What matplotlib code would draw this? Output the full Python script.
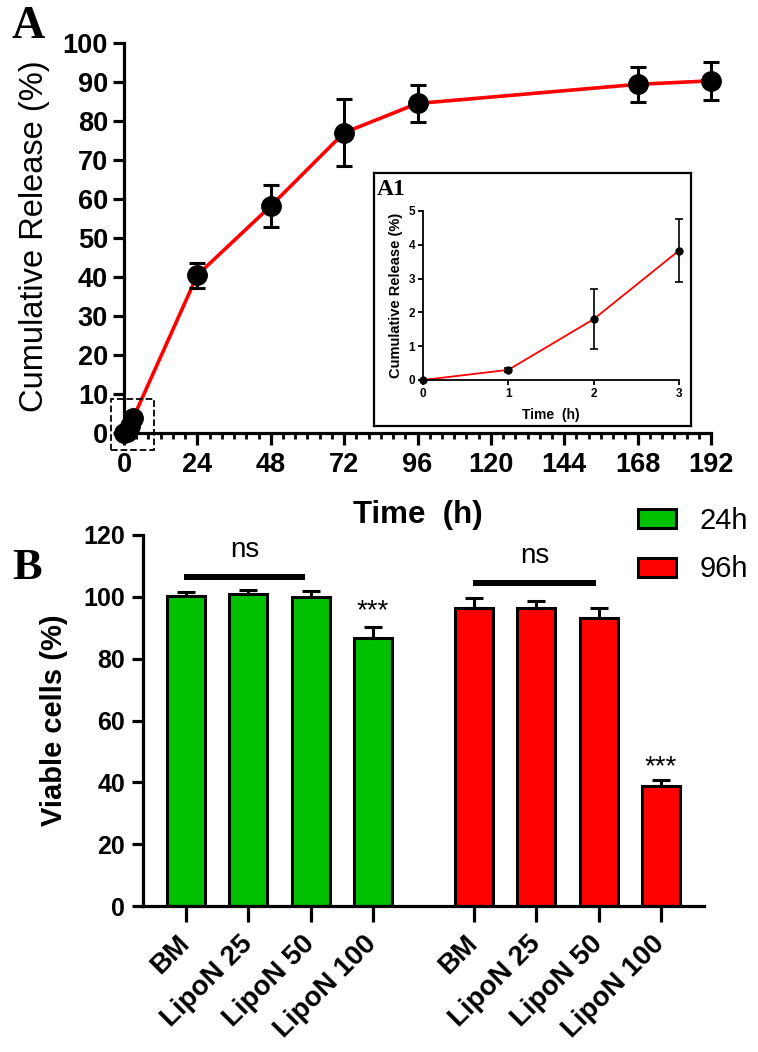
import matplotlib
matplotlib.use('Agg')
import matplotlib.pyplot as plt
from matplotlib.patches import Rectangle
from matplotlib.ticker import MultipleLocator
import numpy as np

plt.rcParams['font.family'] = ['Liberation Sans', 'DejaVu Sans']

# release data (time in h, cumulative release in %)
time_h = [0, 1, 2, 3, 24, 48, 72, 96, 168, 192]
release = [0, 0.3, 1.8, 3.83, 40.5, 58.2, 77.0, 84.5, 89.4, 90.3]
release_sd = [0, 0.05, 0.88, 0.92, 3.2, 5.3, 8.6, 4.7, 4.4, 4.8]

# first hours for the zoomed inset
inset_time = time_h[:4]
inset_release = release[:4]
inset_sd = release_sd[:4]

# viability data
groups = ['BM', 'LipoN 25', 'LipoN 50', 'LipoN 100']
viab_24 = [100.3, 100.9, 99.8, 86.8]
sd_24 = [1.3, 1.3, 2.1, 3.5]
viab_96 = [96.5, 96.5, 93.0, 38.7]
sd_96 = [3.2, 2.0, 3.5, 1.9]

W, H = 758, 1052
fig = plt.figure(figsize=(W / 100, H / 100), dpi=100)


def px_axes(x0, y0, x1, y1):
    # pixel box (left, top, right, bottom) -> figure fraction
    return [x0 / W, 1 - y1 / H, (x1 - x0) / W, (y1 - y0) / H]


# ---------------- panel A ----------------
ax = fig.add_axes(px_axes(124, 43, 711, 433))
ax.plot(time_h, release, color='#ff0000', lw=2.6, zorder=2, clip_on=False)
ax.errorbar(time_h, release, yerr=release_sd, fmt='o', color='black',
            ms=14, elinewidth=2.2, capsize=6, capthick=2.2, zorder=3, clip_on=False)
ax.set_xlim(0, 192)
ax.set_ylim(0, 100)
ax.xaxis.set_major_locator(MultipleLocator(24))
ax.xaxis.set_minor_locator(MultipleLocator(4))
ax.yaxis.set_major_locator(MultipleLocator(10))
for s in ['top', 'right']:
    ax.spines[s].set_visible(False)
for s in ['left', 'bottom']:
    ax.spines[s].set_linewidth(2.3)
ax.tick_params(axis='y', which='major', length=8, width=2.3, pad=3.5, labelsize=19.5)
ax.tick_params(axis='x', which='major', length=8.5, width=2.3, pad=5, labelsize=19.5)
ax.tick_params(axis='x', which='minor', length=4.5, width=2)
for lab in ax.get_xticklabels() + ax.get_yticklabels():
    lab.set_fontweight('bold')
ax.set_xlabel('Time  (h)', fontsize=22.5, fontweight='bold')
ax.xaxis.set_label_coords(0.5, -0.172)
ax.xaxis.label.set_va('top')
ax.set_ylabel('Cumulative Release (%)', fontsize=23.5)
ax.yaxis.set_label_coords(-0.126, 0.505)

# dashed box around the first hours
ax.add_patch(Rectangle((-4.2, -4.4), 14, 13.1, fill=False, ls='--', lw=1.3,
                       ec='black', clip_on=False, zorder=4))

fig.text(11 / W, 1 - 6 / H, 'A', family='Liberation Serif', fontweight='bold',
         fontsize=33, ha='left', va='top')

# inset A1
frame = fig.add_axes(px_axes(374, 173, 691, 426))
frame.set_xticks([])
frame.set_yticks([])
for s in frame.spines.values():
    s.set_linewidth(1.6)
frame.text(0.01, 0.975, 'A1', transform=frame.transAxes, family='Liberation Serif',
           fontweight='bold', fontsize=17, ha='left', va='top')

axi = fig.add_axes(px_axes(423, 211, 679, 380))
axi.plot(inset_time, inset_release, color='#ff0000', lw=1.3, zorder=2, clip_on=False)
axi.errorbar(inset_time, inset_release, yerr=inset_sd, fmt='o', color='black',
             ms=5, elinewidth=1.2, capsize=3, capthick=1.2, zorder=3, clip_on=False)
axi.set_xlim(0, 3)
axi.set_ylim(0, 5)
axi.set_xticks([0, 1, 2, 3])
axi.set_yticks([0, 1, 2, 3, 4, 5])
for s in ['top', 'right']:
    axi.spines[s].set_visible(False)
for s in ['left', 'bottom']:
    axi.spines[s].set_linewidth(1.3)
axi.tick_params(length=3.5, width=1.3, pad=2, labelsize=8.5)
for lab in axi.get_xticklabels() + axi.get_yticklabels():
    lab.set_fontweight('bold')
axi.set_xlabel('Time  (h)', fontsize=10, fontweight='bold')
axi.xaxis.set_label_coords(0.5, -0.166)
axi.xaxis.label.set_va('top')
axi.set_ylabel('Cumulative Release (%)', fontsize=10.5, fontweight='bold')
axi.yaxis.set_label_coords(-0.08, 0.5)

# ---------------- panel B ----------------
ax2 = fig.add_axes(px_axes(143, 535, 704, 906))
pos24 = np.arange(4)
pos96 = np.arange(4) + 4.62
b1 = ax2.bar(pos24, viab_24, width=0.61, color='#00c000', edgecolor='black',
             lw=2.2, label='24h', zorder=2)
b2 = ax2.bar(pos96, viab_96, width=0.61, color='#ff0000', edgecolor='black',
             lw=2.2, label='96h', zorder=2)
ax2.errorbar(pos24, viab_24, yerr=[np.zeros(4), sd_24], fmt='none', ecolor='black',
             elinewidth=2.2, capsize=6.5, capthick=2.2, zorder=1)
ax2.errorbar(pos96, viab_96, yerr=[np.zeros(4), sd_96], fmt='none', ecolor='black',
             elinewidth=2.2, capsize=6.5, capthick=2.2, zorder=1)
ax2.set_xlim(-0.69, 8.31)
ax2.set_ylim(0, 120)
ax2.yaxis.set_major_locator(MultipleLocator(20))
ax2.set_xticks(np.concatenate([pos24, pos96]))
ax2.set_xticklabels(groups + groups, rotation=45, ha='right', va='center',
                    rotation_mode='anchor', fontsize=20, fontweight='bold')
for s in ['top', 'right']:
    ax2.spines[s].set_visible(False)
for s in ['left', 'bottom']:
    ax2.spines[s].set_linewidth(2.3)
ax2.tick_params(axis='y', length=8, width=2.3, pad=5, labelsize=18)
ax2.tick_params(axis='x', length=11.5, width=2.3, pad=13)
for lab in ax2.get_yticklabels():
    lab.set_fontweight('bold')
ax2.set_ylabel('Viable cells (%)', fontsize=21, fontweight='bold')
ax2.yaxis.set_label_coords(-0.134, 0.5)

# significance marks
ax2.plot([-0.04, 1.91], [106.5, 106.5], color='black', lw=4.3, solid_capstyle='butt')
ax2.text(0.95, 111, 'ns', fontsize=20, ha='center', va='bottom')
ax2.plot([4.6, 6.58], [104.5, 104.5], color='black', lw=4.3, solid_capstyle='butt')
ax2.text(5.6, 109, 'ns', fontsize=20, ha='center', va='bottom')
ax2.text(pos24[3], 95.5, '***', fontsize=20, ha='center', va='center')
ax2.text(pos96[3], 45, '***', fontsize=20, ha='center', va='center')

leg = ax2.legend(handles=[b1, b2], loc='upper left', frameon=False, fontsize=21,
                 bbox_to_anchor=(638 / W, 1 - 507 / H), bbox_transform=fig.transFigure,
                 borderpad=0, borderaxespad=0, handlelength=1.3, handleheight=0.62,
                 handletextpad=0.8, labelspacing=0.7)

fig.text(12 / W, 1 - 548 / H, 'B', family='Liberation Serif', fontweight='bold',
         fontsize=32, ha='left', va='top')

fig.savefig('out.png', dpi=100)
